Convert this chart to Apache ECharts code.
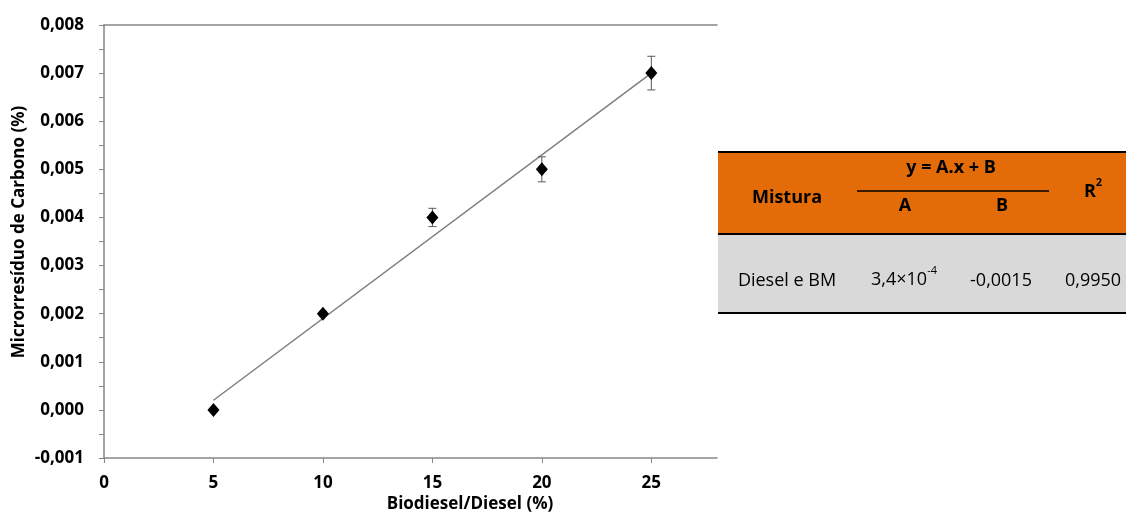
<!DOCTYPE html>
<html>
<head>
<meta charset="utf-8">
<script src="https://cdn.jsdelivr.net/npm/echarts@6/dist/echarts.min.js"></script>
<style>
    html, body { margin: 0; padding: 0; background: #fff; }
    #chart { width: 1126px; height: 514px; }
</style>
</head>
<body>
<div id="chart"></div>
<script>
// dados do gráfico
var xData = [5, 10, 15, 20, 25];
var yData = [0.0000, 0.0020, 0.0040, 0.0050, 0.0070];
var errData = [0, 0.00005, 0.00019, 0.00026, 0.00035];
// reta de ajuste (extremos)
var trendX = [5, 25];
var trendY = [0.0002, 0.0070];
var xTicks = [0, 5, 10, 15, 20, 25];
// tabela
var tableHead = ['Mistura', 'y = A.x + B', 'A', 'B', 'R'];
var tableRow = ['Diesel e BM', '3,4×10', '-4', '-0,0015', '0,9950'];

var font = 'Open Sans';
var chart = echarts.init(document.getElementById('chart'));

var points = [];
var errs = [];
for (var i = 0; i < xData.length; i++) {
    points.push([xData[i], yData[i]]);
    errs.push([xData[i], yData[i] - errData[i], yData[i] + errData[i]]);
}
var trend = [];
for (var j = 0; j < trendX.length; j++) {
    trend.push([trendX[j], trendY[j]]);
}

var option = {
    animation: false,
    grid: { left: 104, top: 25, right: 409, bottom: 56 },
    xAxis: [{
        type: 'value',
        min: 0,
        max: 28,
        interval: 5,
        axisLine: { onZero: false, lineStyle: { color: '#868686', width: 1.5 } },
        axisTick: { show: true, length: 5, lineStyle: { color: '#868686' }, customValues: xTicks },
        axisLabel: {
            customValues: xTicks,
            margin: 17,
            color: '#000',
            fontFamily: font,
            fontWeight: 'bold',
            fontSize: 17
        },
        splitLine: { show: false }
    }, {
        type: 'value',
        position: 'top',
        min: 0,
        max: 28,
        axisLine: { show: true, onZero: false, lineStyle: { color: '#868686', width: 1.5 } },
        axisTick: { show: false },
        axisLabel: { show: false },
        splitLine: { show: false }
    }],
    yAxis: {
        type: 'value',
        min: -0.001,
        max: 0.008,
        interval: 0.001,
        axisLine: { show: true, onZero: false, lineStyle: { color: '#868686', width: 1.5 } },
        axisTick: { show: true, length: 5, lineStyle: { color: '#868686' } },
        minorTick: { show: true, splitNumber: 2, length: 5, lineStyle: { color: '#868686' } },
        axisLabel: {
            margin: 20,
            color: '#000',
            fontFamily: font,
            fontWeight: 'bold',
            fontSize: 17,
            formatter: function(v) {
                return v.toFixed(3).replace('.', ',');
            }
        },
        splitLine: { show: false }
    },
    series: [{
        type: 'line',
        data: trend,
        symbol: 'none',
        lineStyle: { color: '#7f7f7f', width: 1.5 },
        z: 2
    }, {
        type: 'custom',
        data: errs,
        z: 3,
        renderItem: function(params, api) {
            var x = api.value(0);
            var lo = api.coord([x, api.value(1)]);
            var hi = api.coord([x, api.value(2)]);
            var w = 4;
            var st = { stroke: '#595959', lineWidth: 1 };
            return {
                type: 'group',
                children: [
                    { type: 'line', shape: { x1: lo[0], y1: lo[1], x2: hi[0], y2: hi[1] }, style: st },
                    { type: 'line', shape: { x1: lo[0] - w, y1: lo[1], x2: lo[0] + w, y2: lo[1] }, style: st },
                    { type: 'line', shape: { x1: hi[0] - w, y1: hi[1], x2: hi[0] + w, y2: hi[1] }, style: st }
                ]
            };
        }
    }, {
        type: 'scatter',
        data: points,
        symbol: 'diamond',
        symbolSize: [12, 14],
        itemStyle: { color: '#000', opacity: 1 },
        z: 4
    }],
    graphic: [
        // títulos dos eixos
        {
            type: 'text', x: 470, y: 504,
            style: { text: 'Biodiesel/Diesel (%)', fill: '#000', font: 'bold 17px "Open Sans"', align: 'center', verticalAlign: 'middle' }
        },
        {
            type: 'text', x: 19, y: 232, rotation: Math.PI / 2,
            style: { text: 'Microrresíduo de Carbono (%)', fill: '#000', font: 'bold 17px "Open Sans"', align: 'center', verticalAlign: 'middle' }
        },
        // tabela
        { type: 'rect', shape: { x: 718, y: 152, width: 408, height: 82 }, style: { fill: '#E36C09' } },
        { type: 'rect', shape: { x: 718, y: 234, width: 408, height: 79 }, style: { fill: '#D9D9D9' } },
        { type: 'line', shape: { x1: 718, y1: 152, x2: 1126, y2: 152 }, style: { stroke: '#000', lineWidth: 2 } },
        { type: 'line', shape: { x1: 718, y1: 234, x2: 1126, y2: 234 }, style: { stroke: '#000', lineWidth: 2 } },
        { type: 'line', shape: { x1: 718, y1: 313, x2: 1126, y2: 313 }, style: { stroke: '#000', lineWidth: 2 } },
        { type: 'line', shape: { x1: 857, y1: 191, x2: 1049, y2: 191 }, style: { stroke: '#000', lineWidth: 1.5 } },
        {
            type: 'text', x: 787, y: 198,
            style: { text: tableHead[0], fill: '#000', font: 'bold 18px "Open Sans"', align: 'center', verticalAlign: 'middle' }
        },
        {
            type: 'text', x: 951, y: 168,
            style: { text: tableHead[1], fill: '#000', font: 'bold 18px "Open Sans"', align: 'center', verticalAlign: 'middle' }
        },
        {
            type: 'text', x: 905, y: 206,
            style: { text: tableHead[2], fill: '#000', font: 'bold 18px "Open Sans"', align: 'center', verticalAlign: 'middle' }
        },
        {
            type: 'text', x: 1002, y: 206,
            style: { text: tableHead[3], fill: '#000', font: 'bold 18px "Open Sans"', align: 'center', verticalAlign: 'middle' }
        },
        {
            type: 'text', x: 1093, y: 189,
            style: {
                text: '{a|' + tableHead[4] + '}{b|2}',
                align: 'center', verticalAlign: 'middle',
                rich: {
                    a: { fill: '#000', fontFamily: font, fontWeight: 'bold', fontSize: 18, lineHeight: 24, verticalAlign: 'bottom' },
                    b: { fill: '#000', fontFamily: font, fontWeight: 'bold', fontSize: 11, lineHeight: 24, verticalAlign: 'top' }
                }
            }
        },
        {
            type: 'text', x: 787, y: 281,
            style: { text: tableRow[0], fill: '#000', font: '18px "Open Sans"', align: 'center', verticalAlign: 'middle' }
        },
        {
            type: 'text', x: 904, y: 277,
            style: {
                text: '{a|' + tableRow[1] + '}{b|' + tableRow[2] + '}',
                align: 'center', verticalAlign: 'middle',
                rich: {
                    a: { fill: '#000', fontFamily: font, fontSize: 18, lineHeight: 24, verticalAlign: 'bottom' },
                    b: { fill: '#000', fontFamily: font, fontSize: 11, lineHeight: 24, verticalAlign: 'top' }
                }
            }
        },
        {
            type: 'text', x: 1001, y: 281,
            style: { text: tableRow[3], fill: '#000', font: '18px "Open Sans"', align: 'center', verticalAlign: 'middle' }
        },
        {
            type: 'text', x: 1093, y: 281,
            style: { text: tableRow[4], fill: '#000', font: '18px "Open Sans"', align: 'center', verticalAlign: 'middle' }
        }
    ]
};
chart.setOption(option);
</script>
</body>
</html>
